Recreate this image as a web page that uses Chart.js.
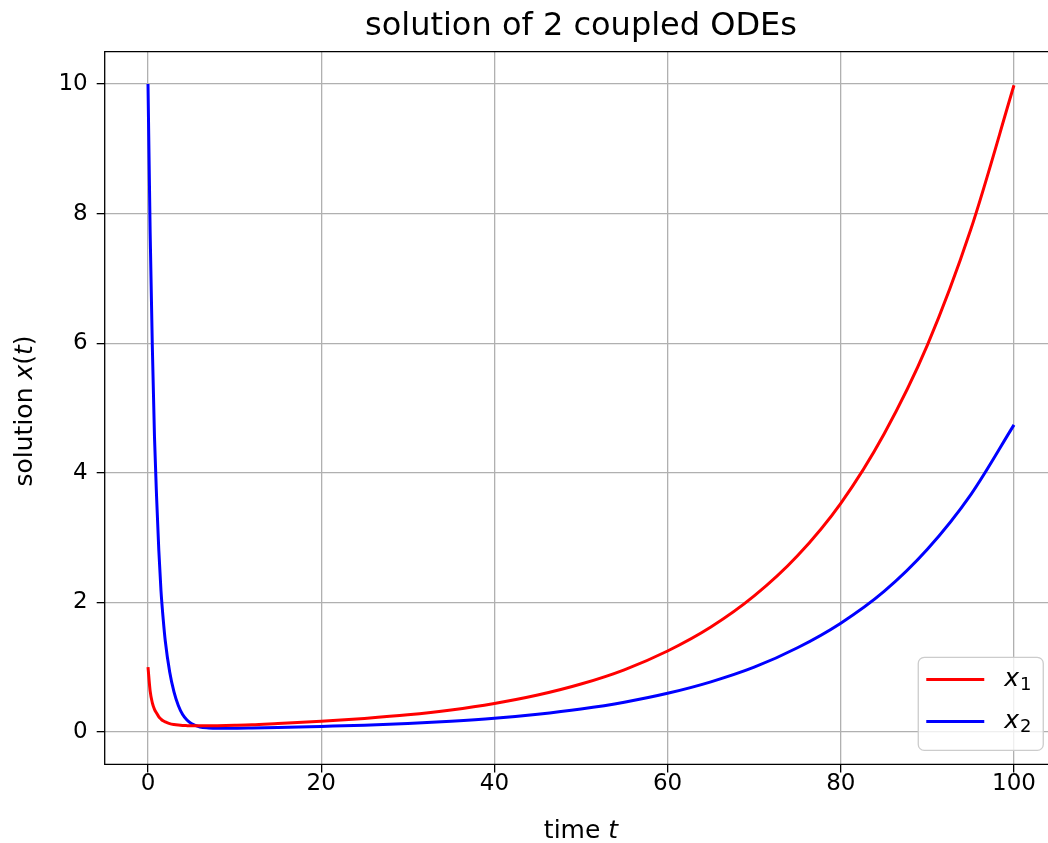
<!DOCTYPE html>
<html><head><meta charset="utf-8">
<script src="https://cdn.jsdelivr.net/npm/chart.js@4.4.1/dist/chart.umd.min.js"></script>
<style>html,body{margin:0;padding:0;background:#fff;overflow:hidden}canvas{display:block}</style>
</head><body><canvas id="c" width="1048" height="843"></canvas>
<script>
// ---- data ----
const timeT    = [0, 0.25, 0.5, 0.75, 1, 1.25, 1.5, 1.75, 2, 2.5, 3, 3.5, 4, 4.5, 5, 6, 7, 8, 10, 12, 15, 20, 25, 30, 35, 40, 45, 50, 55, 60, 65, 70, 75, 80, 85, 90, 95, 100];
const x1Values = [1.0, 0.63, 0.45, 0.35, 0.29, 0.235, 0.2, 0.172, 0.155, 0.13, 0.116, 0.107, 0.101, 0.098, 0.096, 0.095, 0.096, 0.098, 0.104, 0.112, 0.132, 0.165, 0.21, 0.265, 0.34, 0.44, 0.57, 0.74, 0.96, 1.25, 1.62, 2.1, 2.72, 3.53, 4.6, 5.97, 7.75, 9.98];
const x2Values = [10.0, 7.7, 5.95, 4.55, 3.6, 2.8, 2.18, 1.75, 1.4, 0.93, 0.62, 0.41, 0.27, 0.185, 0.13, 0.078, 0.063, 0.058, 0.058, 0.061, 0.068, 0.086, 0.105, 0.13, 0.165, 0.211, 0.274, 0.355, 0.46, 0.597, 0.774, 1.0, 1.3, 1.68, 2.17, 2.82, 3.66, 4.74];
const xTickValues = [0, 20, 40, 60, 80, 100];
const yTickValues = [0, 2, 4, 6, 8, 10];
const seriesLabels = ['x₁', 'x₂'];
const seriesColors = ['#ff0000', '#0000ff'];
const chartTitle = 'solution of 2 coupled ODEs';
const xAxisTitle = [['time ', false], ['t', true]];
const yAxisTitle = [['solution ', false], ['x', true], ['(', false], ['t', true], [')', false]];

// full axes x-range is -5..105; the picture is cut at about t = 103.9
const X_MIN = -5, X_FULL_MAX = 105, X_VISIBLE_MAX = 103.93;

const FONT = "'DejaVu Sans', 'Liberation Sans', sans-serif";
const TICK_SIZE = 23;
const LABEL_SIZE = 25;
const TITLE_SIZE = 32;

function toPoints(xs, ys) { return xs.map((x, i) => ({ x: x, y: ys[i] })); }

function drawSegments(ctx, segs, size) {
  let total = 0;
  const widths = segs.map(([txt, it]) => {
    ctx.font = (it ? 'italic ' : '') + size + 'px ' + FONT;
    const w = ctx.measureText(txt).width; total += w; return w;
  });
  let x = -total / 2;
  segs.forEach(([txt, it], i) => {
    ctx.font = (it ? 'italic ' : '') + size + 'px ' + FONT;
    ctx.fillText(txt, x, 0);
    x += widths[i];
  });
}

const SUB = { '₀': '0', '₁': '1', '₂': '2', '₃': '3', '₄': '4', '₅': '5', '₆': '6', '₇': '7', '₈': '8', '₉': '9' };

const framePlugin = {
  id: 'frame',
  afterDraw(chart) {
    const { ctx, chartArea: a } = chart;
    const xs = chart.scales.x;
    const fullRight = xs.getPixelForValue(X_FULL_MAX);
    const centreX = xs.getPixelForValue((X_MIN + X_FULL_MAX) / 2);
    ctx.save();
    // axes spines (right spine lies outside the picture)
    ctx.strokeStyle = '#000';
    ctx.lineWidth = 1.3;
    ctx.beginPath();
    ctx.moveTo(a.right, a.top); ctx.lineTo(a.left, a.top); ctx.lineTo(a.left, a.bottom); ctx.lineTo(a.right, a.bottom);
    ctx.stroke();

    // title centred over the full axes
    ctx.fillStyle = '#000';
    ctx.textAlign = 'center';
    ctx.textBaseline = 'alphabetic';
    ctx.font = TITLE_SIZE + 'px ' + FONT;
    ctx.fillText(chartTitle, centreX, 35);

    // legend (lower right, inside axes)
    const bw = 125, bh = 93, pad = 14;
    const bx = fullRight - pad - bw, by = a.bottom - pad - bh;
    ctx.beginPath();
    if (ctx.roundRect) ctx.roundRect(bx, by, bw, bh, 6); else ctx.rect(bx, by, bw, bh);
    ctx.fillStyle = 'rgba(255,255,255,0.8)';
    ctx.fill();
    ctx.strokeStyle = '#cccccc';
    ctx.lineWidth = 1.3;
    ctx.stroke();
    chart.data.datasets.forEach((ds, i) => {
      const yy = by + 22 + i * 42;
      ctx.beginPath();
      ctx.moveTo(bx + 8, yy);
      ctx.lineTo(bx + 66, yy);
      ctx.strokeStyle = ds.borderColor;
      ctx.lineWidth = 3;
      ctx.stroke();
      ctx.fillStyle = '#000';
      ctx.textAlign = 'left';
      ctx.textBaseline = 'alphabetic';
      const base = ds.label.charAt(0);
      const sub = ds.label.slice(1).split('').map(c => SUB[c] || c).join('');
      ctx.font = 'italic ' + LABEL_SIZE + 'px ' + FONT;
      ctx.fillText(base, bx + 86, yy + 7);
      const w = ctx.measureText(base).width;
      ctx.font = Math.round(LABEL_SIZE * 0.7) + 'px ' + FONT;
      ctx.fillText(sub, bx + 86 + w + 1, yy + 11);
    });

    // axis titles
    ctx.fillStyle = '#000';
    ctx.textAlign = 'left';
    ctx.textBaseline = 'middle';
    ctx.save();
    ctx.translate(centreX, 831);
    drawSegments(ctx, xAxisTitle, LABEL_SIZE);
    ctx.restore();
    ctx.save();
    ctx.translate(25, (a.top + a.bottom) / 2 + 3);
    ctx.rotate(-Math.PI / 2);
    drawSegments(ctx, yAxisTitle, LABEL_SIZE);
    ctx.restore();
    ctx.restore();
  }
};

const axisCommon = {
  type: 'linear',
  grid: { color: '#b0b0b0', lineWidth: 1.3, tickColor: '#000', tickLength: 8, drawTicks: true },
  border: { display: false },
  ticks: { color: '#000', font: { family: FONT, size: TICK_SIZE, lineHeight: 1.0 }, autoSkip: false, maxRotation: 0 }
};

new Chart(document.getElementById('c'), {
  type: 'line',
  data: {
    datasets: [
      { label: seriesLabels[0], data: toPoints(timeT, x1Values), borderColor: seriesColors[0], borderWidth: 3, pointRadius: 0, fill: false, cubicInterpolationMode: 'monotone' },
      { label: seriesLabels[1], data: toPoints(timeT, x2Values), borderColor: seriesColors[1], borderWidth: 3, pointRadius: 0, fill: false, cubicInterpolationMode: 'monotone' }
    ]
  },
  options: {
    responsive: false,
    animation: false,
    devicePixelRatio: 1,
    layout: { padding: { left: 0, right: 0, top: 51.6, bottom: 0 } },
    plugins: {
      legend: { display: false },
      tooltip: { enabled: false },
      title: { display: false }
    },
    scales: {
      x: Object.assign({}, axisCommon, {
        min: X_MIN, max: X_VISIBLE_MAX,
        afterBuildTicks: s => { s.ticks = xTickValues.map(v => ({ value: v })); },
        afterFit: s => { s.height = 78.6; },
        ticks: Object.assign({}, axisCommon.ticks, { padding: 0 })
      }),
      y: Object.assign({}, axisCommon, {
        min: -0.5, max: 10.5,
        afterBuildTicks: s => { s.ticks = yTickValues.map(v => ({ value: v })); },
        afterFit: s => { s.width = 104.7; },
        ticks: Object.assign({}, axisCommon.ticks, { padding: 9 })
      })
    }
  },
  plugins: [framePlugin]
});
</script></body></html>
